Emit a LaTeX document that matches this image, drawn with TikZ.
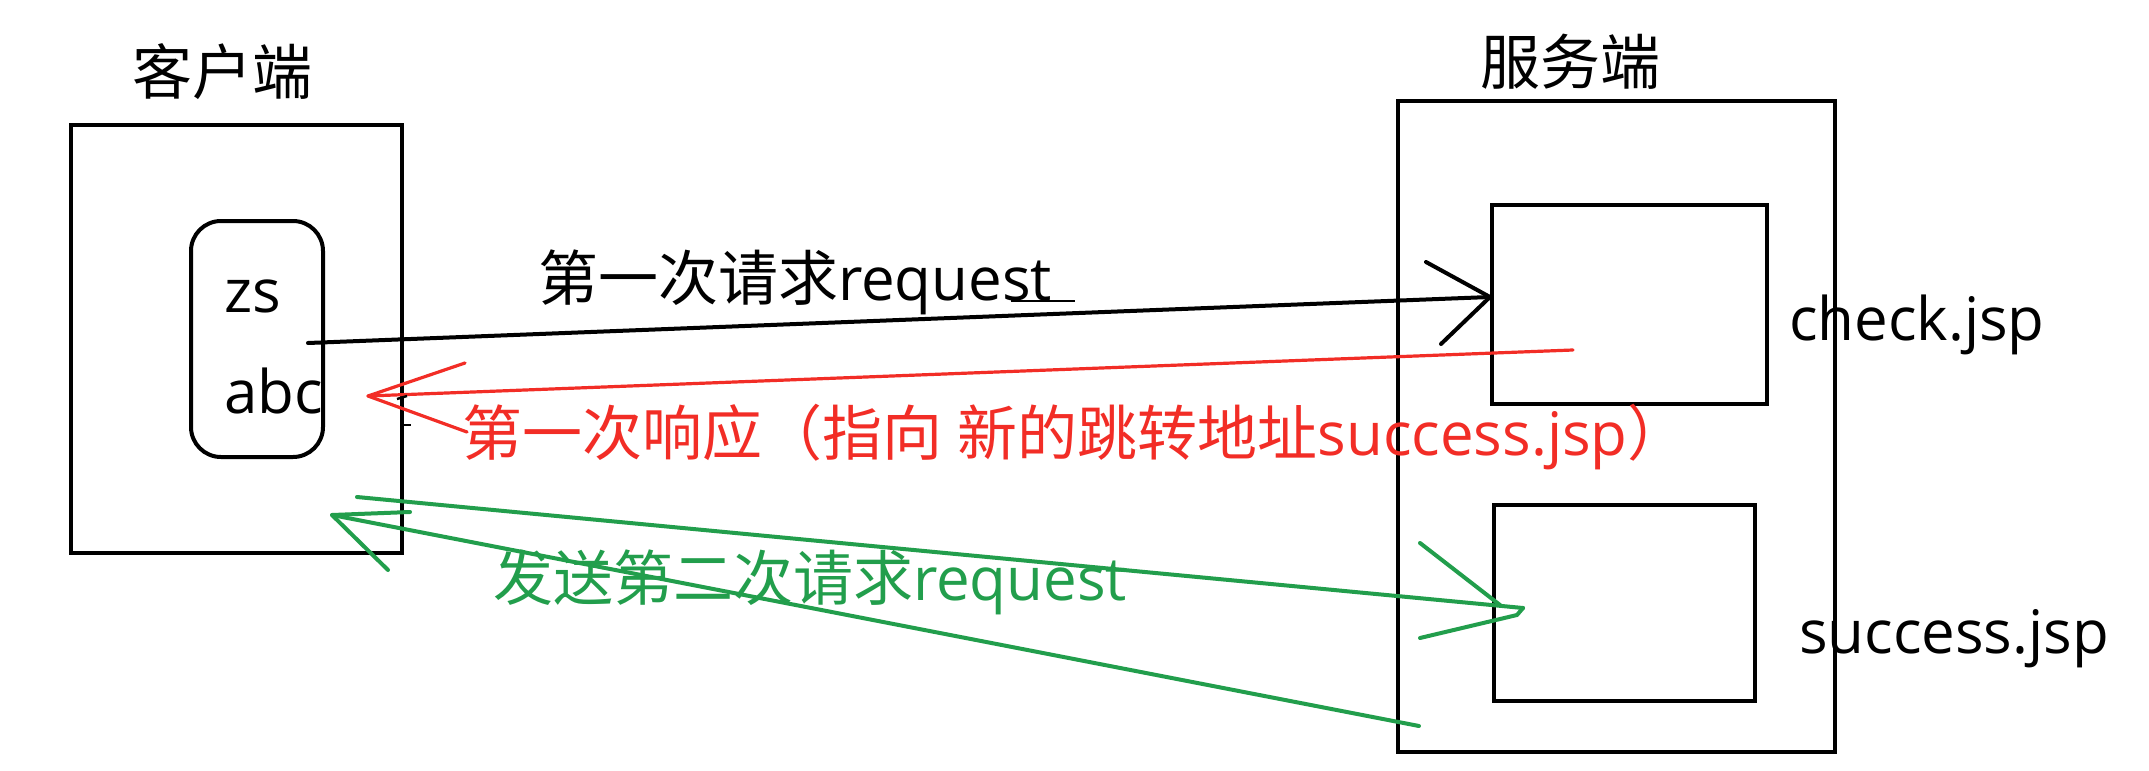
\documentclass[tikz,border=0pt]{standalone}
\usepackage{fontspec}
\setmainfont{Open Sans}
\newfontfamily\cjk{Noto Sans CJK SC}
\definecolor{redink}{RGB}{242,45,38}
\definecolor{greenink}{RGB}{34,158,76}
\begin{document}
\begin{tikzpicture}[x=0.5pt,y=-0.5pt,
  box/.style={draw=black,line width=2.4pt,inner sep=0pt,outer sep=0pt,anchor=north west},
  rbox/.style={box,line width=2pt,rounded corners=15pt},
  txt/.style={inner sep=0pt,outer sep=0pt,anchor=base west,font=\fontsize{30pt}{36pt}\selectfont},
  blackarrow/.style={draw=black,line width=2pt,line cap=round,line join=round},
  redarrow/.style={draw=redink,line width=1.6pt,line cap=round,line join=round},
  greenarrow/.style={draw=greenink,line width=2pt,line cap=round,line join=round}]
\fill[white] (0,0) rectangle (2149,771);
\useasboundingbox (0,0) rectangle (2149,771);

% titles
\node[txt] (ctitle) at (132,94) {\cjk 客户端};
\node[txt] (stitle) at (1480,84) {\cjk 服务端};

% boxes
\node[box,minimum width=165.5pt,minimum height=214pt] (client) at (71,125) {};
\node[rbox,minimum width=66pt,minimum height=118pt] (data) at (191,221) {};
\node[box,minimum width=218.5pt,minimum height=325.5pt] (server) at (1398,101) {};
\node[box,minimum width=137.5pt,minimum height=99.5pt] (check) at (1492,205) {};
\node[box,minimum width=130.5pt,minimum height=98pt] (success) at (1494,505) {};

% texts in boxes
\node[txt] (zs) at (224,312) {zs};
\node[txt] (abc) at (224,413) {abc};
\node[txt] (checkjsp) at (1789,340) {check.jsp};
\node[txt] (successjsp) at (1799,653) {success.jsp};

% labels
\node[txt] (lbl1) at (538,300) {{\cjk 第一次请求}request};
\node[txt,text=redink] (lbl2) at (462,455) {{\cjk 第一次响应（指向} {\cjk 新的跳转地址}success.jsp{\cjk ）}};
\node[txt,text=greenink] (lbl3) at (493,600) {{\cjk 发送第二次请求}request};
\draw[black,line width=1.3pt] (1011,301) -- (1075,301);

% connector end points
\coordinate (b0) at (308,343);
\coordinate (b1) at (1490,297);
\coordinate (bw1) at (1426,262);
\coordinate (bw2) at (1441,344);

\coordinate (r0) at (1573,350);
\coordinate (r1) at (368,396);
\coordinate (rw1) at (465,363);
\coordinate (rw2) at (467,432);

\coordinate (g0) at (357,497);
\coordinate (g1) at (1523,608);
\coordinate (gw1) at (1420,543);
\coordinate (gw1e) at (1500,605);
\coordinate (gw2) at (1420,638);
\coordinate (gw2e) at (1517,615);

\coordinate (h0) at (1419,726);
\coordinate (h1) at (332,515);
\coordinate (hw1) at (410,512);
\coordinate (hw2) at (388,570);

% first request (black)
\draw[blackarrow] (b0) -- (b1);
\draw[blackarrow] (bw1) -- (b1) -- (bw2);
% first response (red)
\draw[redarrow] (r0) -- (r1);
\draw[redarrow] (rw1) -- (r1) -- (rw2);
% second request (green)
\draw[greenarrow] (g0) -- (g1);
\draw[greenarrow] (gw1) -- (gw1e);
\draw[greenarrow] (gw2) -- (gw2e) -- (g1);
% return (green)
\draw[greenarrow] (h0) -- (h1);
\draw[greenarrow] (hw1) -- (h1) -- (hw2);

% small marks on client box edge
\draw[black,line width=1.2pt] (397,399) -- (407,396);
\draw[black,line width=1.2pt] (401,425) -- (411,425);
\end{tikzpicture}
\end{document}
